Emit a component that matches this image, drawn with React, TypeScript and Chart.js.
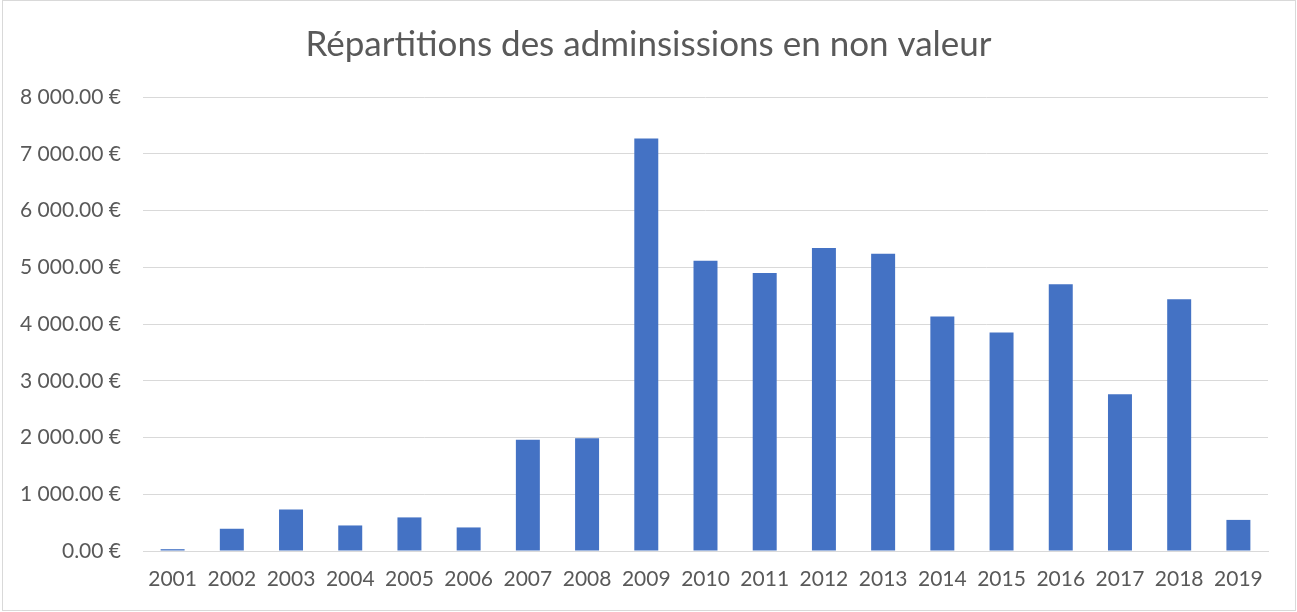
import React, { useEffect, useRef } from "react";
import { Chart, registerables } from "chart.js";

Chart.register(...registerables);

const years = ["2001","2002","2003","2004","2005","2006","2007","2008","2009","2010","2011","2012","2013","2014","2015","2016","2017","2018","2019"];
const amounts = [32, 392, 733, 450, 592, 415, 1962, 1985, 7270, 5115, 4898, 5339, 5238, 4134, 3852, 4700, 2762, 4435, 548];
const yTicks = [0, 1000, 2000, 3000, 4000, 5000, 6000, 7000, 8000];
const titleText = "Répartitions des adminsissions en non valeur";

const FONT = "Lato, 'Open Sans', sans-serif";

function formatEuro(v: number): string {
  const fixed = v.toFixed(2);
  const [intPart, dec] = fixed.split(".");
  const grouped = intPart.replace(/\B(?=(\d{3})+(?!\d))/g, " ");
  return `${grouped}.${dec} €`;
}

export default function App() {
  const ref = useRef<HTMLCanvasElement | null>(null);

  useEffect(() => {
    document.body.style.margin = "0";
    const canvas = ref.current;
    if (!canvas) return;
    const chart = new Chart(canvas, {
      type: "bar",
      data: {
        labels: years,
        datasets: [
          {
            data: amounts,
            backgroundColor: "#4472C4",
            borderWidth: 0,
            barPercentage: 0.405,
            categoryPercentage: 1,
            yAxisID: "y",
          },
        ],
      },
      options: {
        animation: false,
        responsive: false,
        maintainAspectRatio: false,
        layout: { padding: { left: 0, right: 0, top: 0, bottom: 21 } },
        plugins: {
          legend: { display: false },
          tooltip: { enabled: false },
          title: {
            display: true,
            text: titleText,
            color: "#595959",
            font: { family: FONT, size: 35, weight: "normal" },
            padding: { top: 24, bottom: 31 },
          },
        },
        scales: {
          x: {
            grid: { display: false, drawTicks: false },
            border: { display: true, color: "#d9d9d9", width: 1 },
            ticks: {
              color: "#595959",
              font: { family: FONT, size: 21 },
              padding: 16,
              maxRotation: 0,
              autoSkip: false,
            },
            afterFit: (s: any) => {
              s.height = 40;
            },
          },
          y: {
            min: 0,
            max: 8000,
            afterBuildTicks: (s: any) => {
              s.ticks = yTicks.map((v) => ({ value: v }));
            },
            grid: { color: "#d9d9d9", lineWidth: 1, drawTicks: false },
            border: { display: false },
            ticks: {
              color: "#595959",
              font: { family: FONT, size: 21 },
              padding: 22,
              callback: (v: any) => formatEuro(Number(v)),
            },
            afterFit: (s: any) => {
              s.width = 143;
            },
          },
          yRight: {
            position: "right",
            min: 0,
            max: 8000,
            grid: { display: false, drawTicks: false },
            border: { display: false },
            ticks: { display: false },
            afterFit: (s: any) => {
              s.width = 29;
            },
          },
        },
      },
    });
    return () => chart.destroy();
  }, []);

  return (
    <div style={{ position: "relative", width: 1297, height: 612, background: "#fff" }}>
      <canvas ref={ref} width={1297} height={612} style={{ position: "absolute", left: 0, top: 0 }} />
      <div
        style={{
          position: "absolute",
          left: 2,
          top: 0,
          width: 1294,
          height: 611,
          border: "1px solid #d9d9d9",
          boxSizing: "border-box",
          pointerEvents: "none",
        }}
      />
    </div>
  );
}
